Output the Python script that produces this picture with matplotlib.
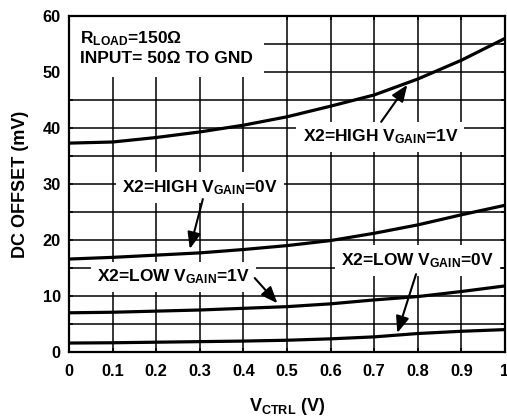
import matplotlib
matplotlib.use("Agg")
import matplotlib.pyplot as plt
import numpy as np

plt.rcParams['font.family'] = ['Liberation Sans', 'DejaVu Sans']
plt.rcParams['font.weight'] = 'bold'
plt.rcParams['mathtext.fontset'] = 'custom'
plt.rcParams['mathtext.rm'] = 'Liberation Sans:bold'
plt.rcParams['mathtext.it'] = 'Liberation Sans:bold'
plt.rcParams['mathtext.bf'] = 'Liberation Sans:bold'

# Data
vctrl = [0.0, 0.1, 0.2, 0.3, 0.4, 0.5, 0.6, 0.7, 0.8, 0.9, 1.0]
high_1v = [37.3, 37.5, 38.3, 39.3, 40.5, 42.0, 43.9, 45.9, 48.75, 52.1, 56.0]
high_0v = [16.6, 16.9, 17.3, 17.7, 18.3, 19.0, 19.9, 21.2, 22.7, 24.5, 26.2]
low_1v = [7.0, 7.1, 7.3, 7.5, 7.8, 8.1, 8.6, 9.3, 9.9, 10.8, 11.8]
low_0v = [1.6, 1.65, 1.75, 1.85, 1.95, 2.1, 2.35, 2.7, 3.3, 3.7, 4.0]

xticks = [0, 0.1, 0.2, 0.3, 0.4, 0.5, 0.6, 0.7, 0.8, 0.9, 1.0]
xticklabels = ['0', '0.1', '0.2', '0.3', '0.4', '0.5', '0.6', '0.7', '0.8', '0.9', '1']
yticks = [0, 10, 20, 30, 40, 50, 60]
yminor = [5, 15, 25, 35, 45, 55]

fig = plt.figure(figsize=(5.07, 4.18), dpi=100)
ax = fig.add_axes([69/507, 1-352/418, (505-69)/507, (352-16)/418])
ax.set_xlim(0, 1)
ax.set_ylim(0, 60)

# grid
for x in xticks:
    ax.axvline(x, color='black', lw=1.1, zorder=1)
for y in yticks + yminor:
    ax.axhline(y, color='black', lw=1.1, zorder=1)

for ys in (high_1v, high_0v, low_1v, low_0v):
    ax.plot(vctrl, ys, color='black', lw=2.3, zorder=3, solid_capstyle='butt')

ax.set_xticks(xticks)
ax.set_xticklabels(xticklabels)
ax.set_yticks(yticks)
ax.set_yticks(yminor, minor=True)
ax.tick_params(axis='both', which='both', direction='in', length=3, width=1.1,
               top=True, right=True, labelsize=11.8, pad=6)
ax.tick_params(axis='x', which='major', pad=9)
for lab in ax.get_xticklabels() + ax.get_yticklabels():
    lab.set_fontweight('bold')
for sp in ax.spines.values():
    sp.set_linewidth(1.6)
    sp.set_zorder(4)

ax.set_ylabel('DC OFFSET (mV)', fontsize=13, fontweight='bold', labelpad=10)
ax.set_xlabel(r'V$_{\mathrm{CTRL}}$ (V)', fontsize=13, fontweight='bold', labelpad=12)

fs = 12.5
box = dict(boxstyle='square,pad=0.35', fc='white', ec='none')
ax.text(0.025, 54.3, 'R$_{\\mathrm{LOAD}}$=150Ω\nINPUT= 50Ω TO GND', fontsize=fs,
        fontweight='bold', va='center', ha='left', zorder=2, linespacing=1.25,
        bbox=dict(boxstyle='square,pad=0.62', fc='white', ec='none'))

ax.text(0.714, 38.4, r'X2=HIGH V$_{\mathrm{GAIN}}$=1V', fontsize=fs, fontweight='bold',
        ha='center', va='center', zorder=2, bbox=box)
ax.text(0.30, 29.3, r'X2=HIGH V$_{\mathrm{GAIN}}$=0V', fontsize=fs, fontweight='bold',
        ha='center', va='center', zorder=2, bbox=box)
ax.text(0.24, 13.4, r'X2=LOW V$_{\mathrm{GAIN}}$=1V', fontsize=fs, fontweight='bold',
        ha='center', va='center', zorder=2, bbox=box)
ax.text(0.80, 16.4, r'X2=LOW V$_{\mathrm{GAIN}}$=0V', fontsize=fs, fontweight='bold',
        ha='center', va='center', zorder=2, bbox=box)

arrow = dict(arrowstyle='-|>,head_length=1.0,head_width=0.4', color='black', lw=1.5,
             shrinkA=0, shrinkB=0)
ax.annotate('', xy=(0.776, 47.7), xytext=(0.716, 41.1), arrowprops=arrow, zorder=3)
ax.annotate('', xy=(0.277, 18.4), xytext=(0.307, 27.3), arrowprops=arrow, zorder=3)
ax.annotate('', xy=(0.478, 8.7), xytext=(0.426, 13.2), arrowprops=arrow, zorder=3)
ax.annotate('', xy=(0.753, 3.4), xytext=(0.796, 13.9), arrowprops=arrow, zorder=3)

fig.savefig('out.png', dpi=100)
